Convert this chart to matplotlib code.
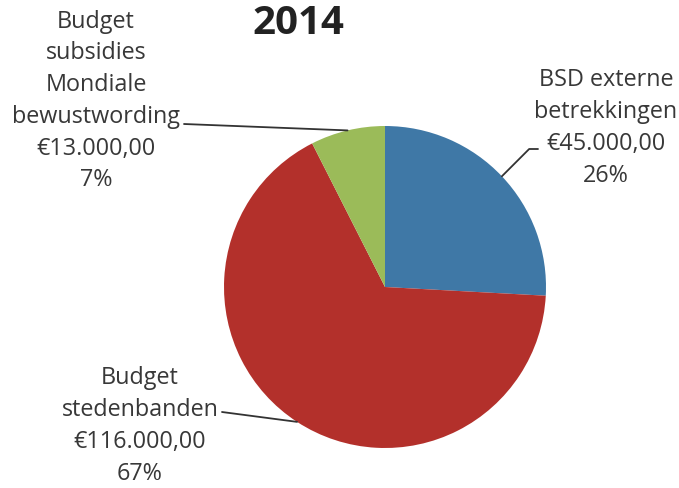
import numpy as np
import matplotlib
matplotlib.use("Agg")
import matplotlib.pyplot as plt

title = "2014"
categories = ["BSD externe\nbetrekkingen", "Budget\nstedenbanden", "Budget\nsubsidies\nMondiale\nbewustwording"]
values = [45000, 116000, 13000]
colors = ["#3f78a6", "#b3302b", "#9bbb59"]

def eur(v):
    s = f"{v:,.2f}"
    s = s.replace(",", "X").replace(".", ",").replace("X", ".")
    return "€" + s

total = sum(values)
pcts = [round(v / total * 100) for v in values]
labels = [f"{c}\n{eur(v)}\n{p}%" for c, v, p in zip(categories, values, pcts)]

plt.rcParams['font.family'] = ['Open Sans', 'DejaVu Sans']
fig = plt.figure(figsize=(6.79, 4.88), dpi=100)
W, H = 679, 488
ax = fig.add_axes([224 / W, (H - 448) / H, 322 / W, 322 / H])
wedges, _ = ax.pie(values, colors=colors, startangle=90, counterclock=False,
                   radius=1.0, wedgeprops=dict(linewidth=0))
ax.set_xlim(-1, 1)
ax.set_ylim(-1, 1)
ax.set_aspect('equal')

fig.text(298 / W, (H - 23) / H, title, ha='center', va='center',
         fontsize=29, fontweight='bold', color='#222222')

# label positions (figure pixels, image y from top) and leader lines
label_pos = [(606, 128), (140, 426), (96, 101)]
line_start = [(538, 149), (222, 412), (184, 124)]
conn = ["angle,angleA=0,angleB=45,rad=0", "arc3", "arc3"]
for w, lab, (lx, ly), (sx, sy), cs in zip(wedges, labels, label_pos, line_start, conn):
    ang = np.deg2rad((w.theta1 + w.theta2) / 2)
    xe, ye = np.cos(ang), np.sin(ang)
    fig.text(lx / W, (H - ly) / H, lab, ha='center', va='center',
             fontsize=16.8, color='#383838', linespacing=1.43)
    ax.annotate("", xy=(xe, ye), xycoords='data',
                xytext=(sx, H - sy), textcoords='figure pixels',
                arrowprops=dict(arrowstyle='-', color='#333333', lw=1.3,
                                shrinkA=0, shrinkB=0, connectionstyle=cs))

fig.savefig("out.png", dpi=100, facecolor='white')
